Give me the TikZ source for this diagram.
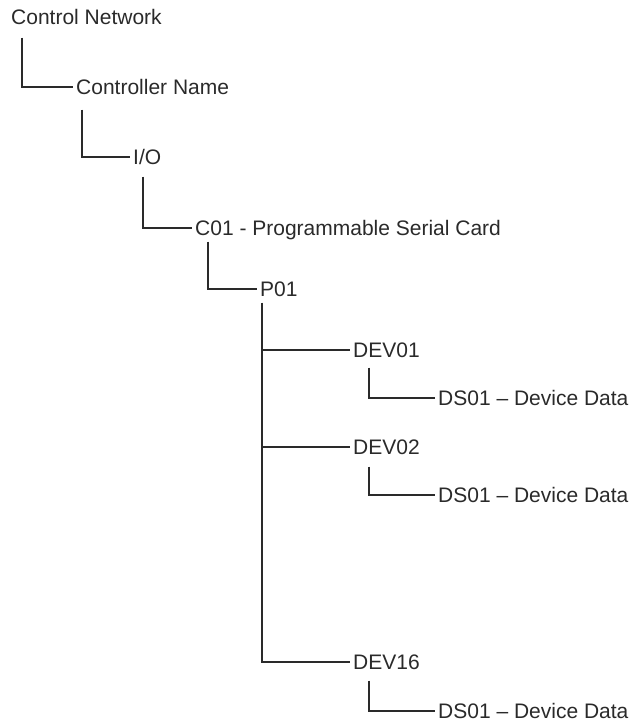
\documentclass[tikz,border=0pt]{standalone}
\usepackage{fontspec}
\setmainfont{Liberation Sans}
\usepackage{tikz}
\usetikzlibrary{positioning, calc}
\definecolor{treeink}{HTML}{2A2A2A}
\tikzset{
	treenode/.style={
			anchor=west,
			inner sep=3pt,
			text height=15pt,
			text depth=0pt,
			text=treeink,
			font=\fontsize{21}{25}\selectfont
		},
	link/.style={
			draw=treeink,
			line width=1.6pt
		}
}

\begin{document}
\begin{tikzpicture}[x=1pt, y=-1pt]
\useasboundingbox (0,0) rectangle (634,723);
\node[treenode] (net) at (8,17)  {Control Network};
\node[treenode] (ctrl) at (73,87)  {Controller Name};
\node[treenode] (io) at (130,157)  {I/O};
\node[treenode] (c01) at (192,228)  {C01 - Programmable Serial Card};
\node[treenode] (p01) at (257,289)  {P01};
\node[treenode] (dev01) at (350,350)  {DEV01};
\node[treenode] (ds1) at (435,398)  {DS01 – Device Data};
\node[treenode] (dev02) at (350,447)  {DEV02};
\node[treenode] (ds2) at (435,495)  {DS01 – Device Data};
\node[treenode] (dev16) at (350,662)  {DEV16};
\node[treenode] (ds16) at (435,711)  {DS01 – Device Data};

\draw[link] ([xshift=14, yshift=-10]net.south west) |- (ctrl.west);
\draw[link] ([xshift=9, yshift=-12]ctrl.south west) |- (io.west);
\draw[link] ([xshift=13, yshift=-9]io.south west) |- (c01.west);
\draw[link] ([xshift=16, yshift=-3]c01.south west) |- (p01.west);

\coordinate (trunk) at ([xshift=5, yshift=-3]p01.south west);
\draw[link] (trunk) |- (dev16.west);
\draw[link] (trunk |- dev01.west) -- (dev01.west);
\draw[link] (trunk |- dev02.west) -- (dev02.west);

\draw[link] ([xshift=19, yshift=-7]dev01.south west) |- (ds1.west);
\draw[link] ([xshift=19, yshift=-9]dev02.south west) |- (ds2.west);
\draw[link] ([xshift=19, yshift=-8]dev16.south west) |- (ds16.west);
\end{tikzpicture}
\end{document}
